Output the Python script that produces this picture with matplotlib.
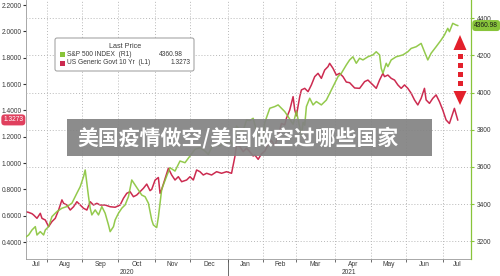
import numpy as np
import matplotlib
matplotlib.use('Agg')
import matplotlib.pyplot as plt
import matplotlib.transforms as mtransforms
from matplotlib.patches import FancyBboxPatch, Polygon, Rectangle
from matplotlib.ticker import FixedLocator, NullFormatter, FixedFormatter

plt.rcParams['font.family'] = ['Liberation Sans', 'DejaVu Sans']

# S&P 500 index (right axis)
spx_dates = ['2020-07-15', '2020-07-17', '2020-07-21', '2020-07-23', '2020-07-24', '2020-07-28',
             '2020-07-30', '2020-07-31', '2020-08-04', '2020-08-06', '2020-08-11', '2020-08-14',
             '2020-08-19', '2020-08-24', '2020-08-27', '2020-08-31', '2020-09-02', '2020-09-03',
             '2020-09-04', '2020-09-07', '2020-09-08', '2020-09-09', '2020-09-11', '2020-09-15',
             '2020-09-17', '2020-09-21', '2020-09-23', '2020-09-24', '2020-09-28', '2020-09-29',
             '2020-10-01', '2020-10-05', '2020-10-07', '2020-10-09', '2020-10-13', '2020-10-15',
             '2020-10-19', '2020-10-21', '2020-10-23', '2020-10-27', '2020-10-29', '2020-10-30',
             '2020-11-03', '2020-11-04', '2020-11-06', '2020-11-11', '2020-11-13', '2020-11-18',
             '2020-11-23', '2020-11-26', '2020-12-01', '2020-12-04', '2020-12-09', '2020-12-14',
             '2020-12-16', '2020-12-21', '2020-12-25', '2020-12-30', '2021-01-04', '2021-01-06',
             '2021-01-08', '2021-01-12', '2021-01-14', '2021-01-18', '2021-01-20', '2021-01-22',
             '2021-01-27', '2021-01-29', '2021-02-02', '2021-02-05', '2021-02-10', '2021-02-12',
             '2021-02-16', '2021-02-18', '2021-02-22', '2021-02-25', '2021-03-01', '2021-03-04',
             '2021-03-05', '2021-03-08', '2021-03-09', '2021-03-11', '2021-03-15', '2021-03-17',
             '2021-03-22', '2021-03-25', '2021-03-29', '2021-03-31', '2021-04-05', '2021-04-07',
             '2021-04-12', '2021-04-14', '2021-04-16', '2021-04-20', '2021-04-22', '2021-04-26',
             '2021-04-29', '2021-05-04', '2021-05-06', '2021-05-10', '2021-05-11', '2021-05-12',
             '2021-05-14', '2021-05-17', '2021-05-19', '2021-05-24', '2021-05-28', '2021-06-02',
             '2021-06-04', '2021-06-09', '2021-06-14', '2021-06-16', '2021-06-18', '2021-06-22',
             '2021-06-25', '2021-06-30', '2021-07-02', '2021-07-06', '2021-07-07', '2021-07-09',
             '2021-07-13', '2021-07-14']
spx_close = [3221, 3234, 3261, 3279, 3234, 3252,
             3234, 3261, 3279, 3333, 3360, 3378,
             3387, 3405, 3459, 3494, 3548, 3584,
             3512, 3440, 3378, 3342, 3369, 3342,
             3387, 3351, 3288, 3252, 3279, 3315,
             3351, 3378, 3396, 3440, 3530, 3503,
             3476, 3449, 3440, 3405, 3315, 3288,
             3274, 3330, 3480, 3551, 3596, 3578,
             3632, 3623, 3659, 3695, 3704, 3686,
             3668, 3722, 3713, 3731, 3740, 3715,
             3820, 3800, 3795, 3853, 3850, 3862,
             3760, 3720, 3840, 3916, 3925, 3934,
             3916, 3898, 3871, 3830, 3900, 3770,
             3840, 3825, 3925, 3970, 3934, 3952,
             3934, 3960, 3996, 4032, 4086, 4104,
             4149, 4176, 4193, 4158, 4185, 4176,
             4193, 4203, 4220, 4203, 4131, 4104,
             4158, 4140, 4176, 4193, 4203, 4220,
             4238, 4247, 4265, 4220, 4176, 4212,
             4247, 4283, 4310, 4346, 4328, 4373,
             4364, 4361]

# US generic govt 10 yr yield (left axis)
ust_dates = ['2020-07-15', '2020-07-17', '2020-07-21', '2020-07-22', '2020-07-24', '2020-07-28',
             '2020-07-29', '2020-07-31', '2020-08-04', '2020-08-06', '2020-08-10', '2020-08-12',
             '2020-08-14', '2020-08-17', '2020-08-19', '2020-08-21', '2020-08-25', '2020-08-27',
             '2020-08-31', '2020-09-02', '2020-09-04', '2020-09-08', '2020-09-10', '2020-09-14',
             '2020-09-16', '2020-09-21', '2020-09-24', '2020-09-29', '2020-10-02', '2020-10-06',
             '2020-10-08', '2020-10-12', '2020-10-14', '2020-10-16', '2020-10-20', '2020-10-22',
             '2020-10-26', '2020-10-28', '2020-10-29', '2020-11-02', '2020-11-04', '2020-11-05',
             '2020-11-06', '2020-11-09', '2020-11-11', '2020-11-12', '2020-11-16', '2020-11-18',
             '2020-11-20', '2020-11-24', '2020-11-27', '2020-12-01', '2020-12-03', '2020-12-07',
             '2020-12-09', '2020-12-11', '2020-12-15', '2020-12-18', '2020-12-23', '2020-12-28',
             '2020-12-31', '2021-01-05', '2021-01-07', '2021-01-08', '2021-01-12', '2021-01-14',
             '2021-01-18', '2021-01-20', '2021-01-22', '2021-01-25', '2021-01-27', '2021-01-29',
             '2021-02-02', '2021-02-04', '2021-02-08', '2021-02-10', '2021-02-12', '2021-02-16',
             '2021-02-18', '2021-02-19', '2021-02-23', '2021-02-25', '2021-02-26', '2021-03-01',
             '2021-03-03', '2021-03-04', '2021-03-08', '2021-03-10', '2021-03-12', '2021-03-16',
             '2021-03-18', '2021-03-22', '2021-03-24', '2021-03-26', '2021-03-29', '2021-03-31',
             '2021-04-02', '2021-04-06', '2021-04-08', '2021-04-12', '2021-04-14', '2021-04-19',
             '2021-04-22', '2021-04-27', '2021-04-29', '2021-05-04', '2021-05-06', '2021-05-10',
             '2021-05-12', '2021-05-13', '2021-05-17', '2021-05-19', '2021-05-21', '2021-05-25',
             '2021-05-27', '2021-05-31', '2021-06-02', '2021-06-04', '2021-06-08', '2021-06-10',
             '2021-06-14', '2021-06-16', '2021-06-17', '2021-06-21', '2021-06-23', '2021-06-25',
             '2021-06-29', '2021-07-01', '2021-07-05', '2021-07-07', '2021-07-09', '2021-07-12',
             '2021-07-14']
ust_yield = [0.631, 0.625, 0.615, 0.605, 0.580, 0.618,
             0.580, 0.567, 0.517, 0.555, 0.580, 0.643,
             0.720, 0.694, 0.681, 0.643, 0.668, 0.706,
             0.681, 0.656, 0.643, 0.706, 0.681, 0.694,
             0.681, 0.681, 0.668, 0.664, 0.681, 0.732,
             0.770, 0.782, 0.744, 0.757, 0.782, 0.808,
             0.840, 0.790, 0.800, 0.870, 0.890, 0.770,
             0.800, 0.840, 0.920, 0.960, 0.909, 0.871,
             0.896, 0.858, 0.871, 0.896, 0.871, 0.947,
             0.934, 0.909, 0.922, 0.909, 0.934, 0.922,
             0.934, 0.922, 1.048, 1.137, 1.124, 1.086,
             1.112, 1.086, 1.053, 1.061, 1.028, 1.070,
             1.090, 1.140, 1.170, 1.130, 1.200, 1.300,
             1.290, 1.340, 1.403, 1.504, 1.403, 1.360,
             1.504, 1.555, 1.567, 1.542, 1.593, 1.656,
             1.681, 1.643, 1.706, 1.732, 1.757, 1.719,
             1.668, 1.681, 1.656, 1.615, 1.610, 1.570,
             1.567, 1.618, 1.630, 1.593, 1.567, 1.630,
             1.681, 1.656, 1.668, 1.643, 1.630, 1.593,
             1.567, 1.593, 1.567, 1.530, 1.479, 1.441,
             1.491, 1.567, 1.479, 1.453, 1.491, 1.517,
             1.466, 1.403, 1.327, 1.300, 1.378, 1.415,
             1.327]

month_starts = ['2020-08-01', '2020-09-01', '2020-10-01', '2020-11-01', '2020-12-01', '2021-01-01',
                '2021-02-01', '2021-03-01', '2021-04-01', '2021-05-01', '2021-06-01', '2021-07-01']
month_labels = ['Jul', 'Aug', 'Sep', 'Oct', 'Nov', 'Dec', 'Jan', 'Feb', 'Mar', 'Apr', 'May', 'Jun', 'Jul']
year_labels = ['2020', '2021']
left_ticks = [0.4, 0.6, 0.8, 1.0, 1.2, 1.4, 1.6, 1.8, 2.0, 2.2]
right_ticks = [3200, 3400, 3600, 3800, 4000, 4200, 4400]
last_spx = '4360.98'
last_ust = '1.3273'

GREEN = '#88c43a'
RED = '#cc2b50'
GRID = '#b8b8b8'
TXT = '#3a3a3a'

# trading-day axis (weekends removed)
ref = np.datetime64('2020-08-03')
def tday(d):
    return np.busday_count(ref, np.array(d, dtype='datetime64[D]'))

x_spx = tday(spx_dates)
x_ust = tday(ust_dates)
x_month = tday(np.busday_offset(np.array(month_starts, dtype='datetime64[D]'), 0, roll='forward'))
xmin, xmax = -12.6, 254.8

fig = plt.figure(figsize=(5, 2.76), dpi=100)
ax = fig.add_axes([26 / 500, 1 - 259 / 276, 444.7 / 500, 259 / 276])
ax2 = ax.twinx()

ax.plot(x_ust, ust_yield, color=RED, lw=1.1, solid_joinstyle='round')
ax2.plot(x_spx, spx_close, color=GREEN, lw=1.1, alpha=0.9, solid_joinstyle='round')

ax.set_xlim(xmin, xmax)
ax.set_ylim(0.271, 2.238)
ax2.set_ylim(3104.8, 4498.5)

# x axis: month boundaries as ticks, names centred between them
ax.xaxis.set_major_locator(FixedLocator(x_month))
ax.xaxis.set_major_formatter(NullFormatter())
bounds = np.concatenate([[xmin], x_month, [xmax]])
mids = (bounds[:-1] + bounds[1:]) / 2
ax.xaxis.set_minor_locator(FixedLocator(mids))
ax.xaxis.set_minor_formatter(FixedFormatter(month_labels))
ax.tick_params(axis='x', which='major', direction='out', length=2.2, width=0.6, color='#555555')
ax.tick_params(axis='x', which='minor', length=0, labelsize=4.8, labelcolor=TXT, pad=1.2)
ax.xaxis.grid(True, which='major', linestyle=(0, (1, 2)), color=GRID, lw=0.7)

jan = x_month[5]
ax.plot([jan, jan], [0, -0.07], transform=mtransforms.blended_transform_factory(ax.transData, ax.transAxes),
        color='#555555', lw=0.6, clip_on=False)
xt = mtransforms.blended_transform_factory(ax.transData, ax.transAxes)
for pos, lab in zip([(xmin + jan) / 2, (jan + xmax) / 2], year_labels):
    ax.text(pos, -0.054, lab, transform=xt, ha='center', va='center', fontsize=4.8, color=TXT)

# left axis
ax.set_yticks(left_ticks)
ax.set_yticklabels(['%.4f' % v for v in left_ticks])
ax.tick_params(axis='y', direction='out', length=2.2, width=0.8, color='#333333',
               labelsize=4.8, labelcolor=TXT, pad=0.8)

# right axis
ax2.set_yticks(right_ticks)
ax2.tick_params(axis='y', direction='out', length=2.2, width=0.8, color=GREEN,
                labelsize=4.8, labelcolor=TXT, pad=2.5)
ax2.yaxis.grid(True, linestyle=(0, (1, 2)), color=GRID, lw=0.7)
ax2.set_axisbelow(True)

for s in ['top', 'right']:
    ax.spines[s].set_visible(False)
ax.spines['left'].set_color('#9a9a9a')
ax.spines['bottom'].set_color('#9a9a9a')
ax.spines['left'].set_linewidth(0.6)
ax.spines['bottom'].set_linewidth(0.6)
for s in ['top', 'left', 'bottom']:
    ax2.spines[s].set_visible(False)
ax2.spines['right'].set_color(GREEN)
ax2.spines['right'].set_linewidth(0.9)

# last-price tags on both axes
ax.text(-0.006, 1.3273, last_ust, transform=mtransforms.blended_transform_factory(ax.transAxes, ax.transData),
        ha='right', va='center', fontsize=4.8, color='white', clip_on=False,
        bbox=dict(boxstyle='round,pad=0.3,rounding_size=0.5', fc='#e0405e', ec='none'))
ax2.text(1.008, 4360.98, last_spx, transform=mtransforms.blended_transform_factory(ax2.transAxes, ax2.transData),
         ha='left', va='center', fontsize=4.8, color='#1a1a1a', clip_on=False,
         bbox=dict(boxstyle='round,pad=0.3,rounding_size=0.5', fc=GREEN, ec='none'))

# pixel coordinates for overlays
px = mtransforms.Affine2D().scale(1 / 500, -1 / 276).translate(0, 1) + fig.transFigure

# legend box
fig.patches.append(FancyBboxPatch((55, 38), 139, 33, boxstyle='round,pad=0,rounding_size=2',
                                  transform=px, fc='white', ec='#9a9a9a', lw=0.7, zorder=5))
fig.text(125, 46.5, 'Last Price', transform=px, ha='center', va='center', fontsize=5.2, color=TXT, zorder=6)
fig.patches.append(Rectangle((59.5, 51.5), 5, 5, transform=px, fc=GREEN, ec='none', zorder=6))
fig.patches.append(Rectangle((59.5, 60.5), 5, 5, transform=px, fc=RED, ec='none', zorder=6))
fig.text(67, 54, 'S&P 500 INDEX  (R1)', transform=px, ha='left', va='center', fontsize=4.8, color=TXT, zorder=6)
fig.text(67, 63, 'US Generic Govt 10 Yr  (L1)', transform=px, ha='left', va='center', fontsize=4.8, color=TXT, zorder=6)
fig.text(159, 54, last_spx, transform=px, ha='left', va='center', fontsize=4.8, color=TXT, zorder=6)
fig.text(171, 63, last_ust, transform=px, ha='left', va='center', fontsize=4.8, color=TXT, zorder=6)

# red dotted double arrow
ARROW = '#e3202c'
fig.patches.append(Polygon([(453.5, 50), (466.5, 50), (460, 35)], closed=True, transform=px, fc=ARROW, ec='none', zorder=6))
fig.patches.append(Polygon([(453.5, 91), (466.5, 91), (460, 105)], closed=True, transform=px, fc=ARROW, ec='none', zorder=6))
for y0 in [53.5, 62.5, 71.5, 80.5]:
    fig.patches.append(Rectangle((457.5, y0), 5, 5, transform=px, fc=ARROW, ec='none', zorder=6))

# title banner
fig.patches.append(Rectangle((67, 119), 365, 37, transform=px, fc='#838383', ec='none', alpha=0.93, zorder=7))
fig.text(77, 138, '美国疫情做空/美国做空过哪些国家', transform=px, ha='left', va='center',
         fontsize=15, fontweight='bold', color='white', zorder=8,
         family=['Noto Sans CJK SC', 'DejaVu Sans'])

fig.savefig('out.png', dpi=100)
